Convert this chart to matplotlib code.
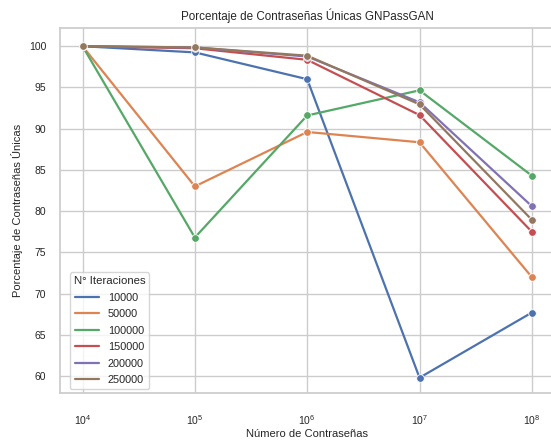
import matplotlib
matplotlib.use("Agg")
import matplotlib.pyplot as plt
from matplotlib.lines import Line2D
import seaborn as sns

# datos
num_contrasenas = [1e4, 1e5, 1e6, 1e7, 1e8]
iteraciones = ['10000', '50000', '100000', '150000', '200000', '250000']
unicas_10000 = [100.0, 99.25, 96.0, 59.8, 67.7]
unicas_50000 = [100.0, 83.0, 89.6, 88.35, 72.0]
unicas_100000 = [100.0, 76.8, 91.6, 94.65, 84.3]
unicas_150000 = [100.0, 99.75, 98.35, 91.65, 77.5]
unicas_200000 = [100.0, 99.85, 98.75, 93.2, 80.6]
unicas_250000 = [100.0, 99.85, 98.85, 92.95, 78.95]
series = [unicas_10000, unicas_50000, unicas_100000,
          unicas_150000, unicas_200000, unicas_250000]

sns.set_theme(style="whitegrid")
plt.rcParams['font.family'] = ['Liberation Sans', 'DejaVu Sans']

colores = sns.color_palette("deep", 6)

fig = plt.figure(figsize=(5.51, 4.42), dpi=100)
ax = fig.add_axes([0.109, 0.110, 0.897, 0.8265])

handles = []
for nombre, valores, c in zip(iteraciones, series, colores):
    ax.plot(num_contrasenas, valores, color=c, lw=1.6, marker='o',
            markersize=5.5, markeredgecolor='white', markeredgewidth=0.6)
    handles.append(Line2D([], [], color=c, lw=1.6, label=nombre))

ax.set_xscale('log')
ax.set_xlim(10 ** 3.8, 10 ** 8.2)
ax.set_ylim(57.9, 102.2)
ax.set_yticks([60, 65, 70, 75, 80, 85, 90, 95, 100])
ax.tick_params(labelsize=7.5, colors='0.15', pad=4)
ax.tick_params(axis='x', pad=8)
ax.minorticks_off()

ax.set_title("Porcentaje de Contraseñas Únicas GNPassGAN", fontsize=8.4, color='0.15')
ax.set_xlabel("Número de Contraseñas", fontsize=8, color='0.15', labelpad=2)
ax.set_ylabel("Porcentaje de Contraseñas Únicas", fontsize=8, color='0.15')

leg = ax.legend(handles=handles, title="N° Iteraciones", loc='lower left',
                bbox_to_anchor=(0.02, 0.012), borderaxespad=0,
                fontsize=7.8, title_fontsize=8.2, handlelength=2.2,
                labelspacing=0.6, borderpad=0.35)

fig.savefig("out.png", dpi=100)
plt.close()
